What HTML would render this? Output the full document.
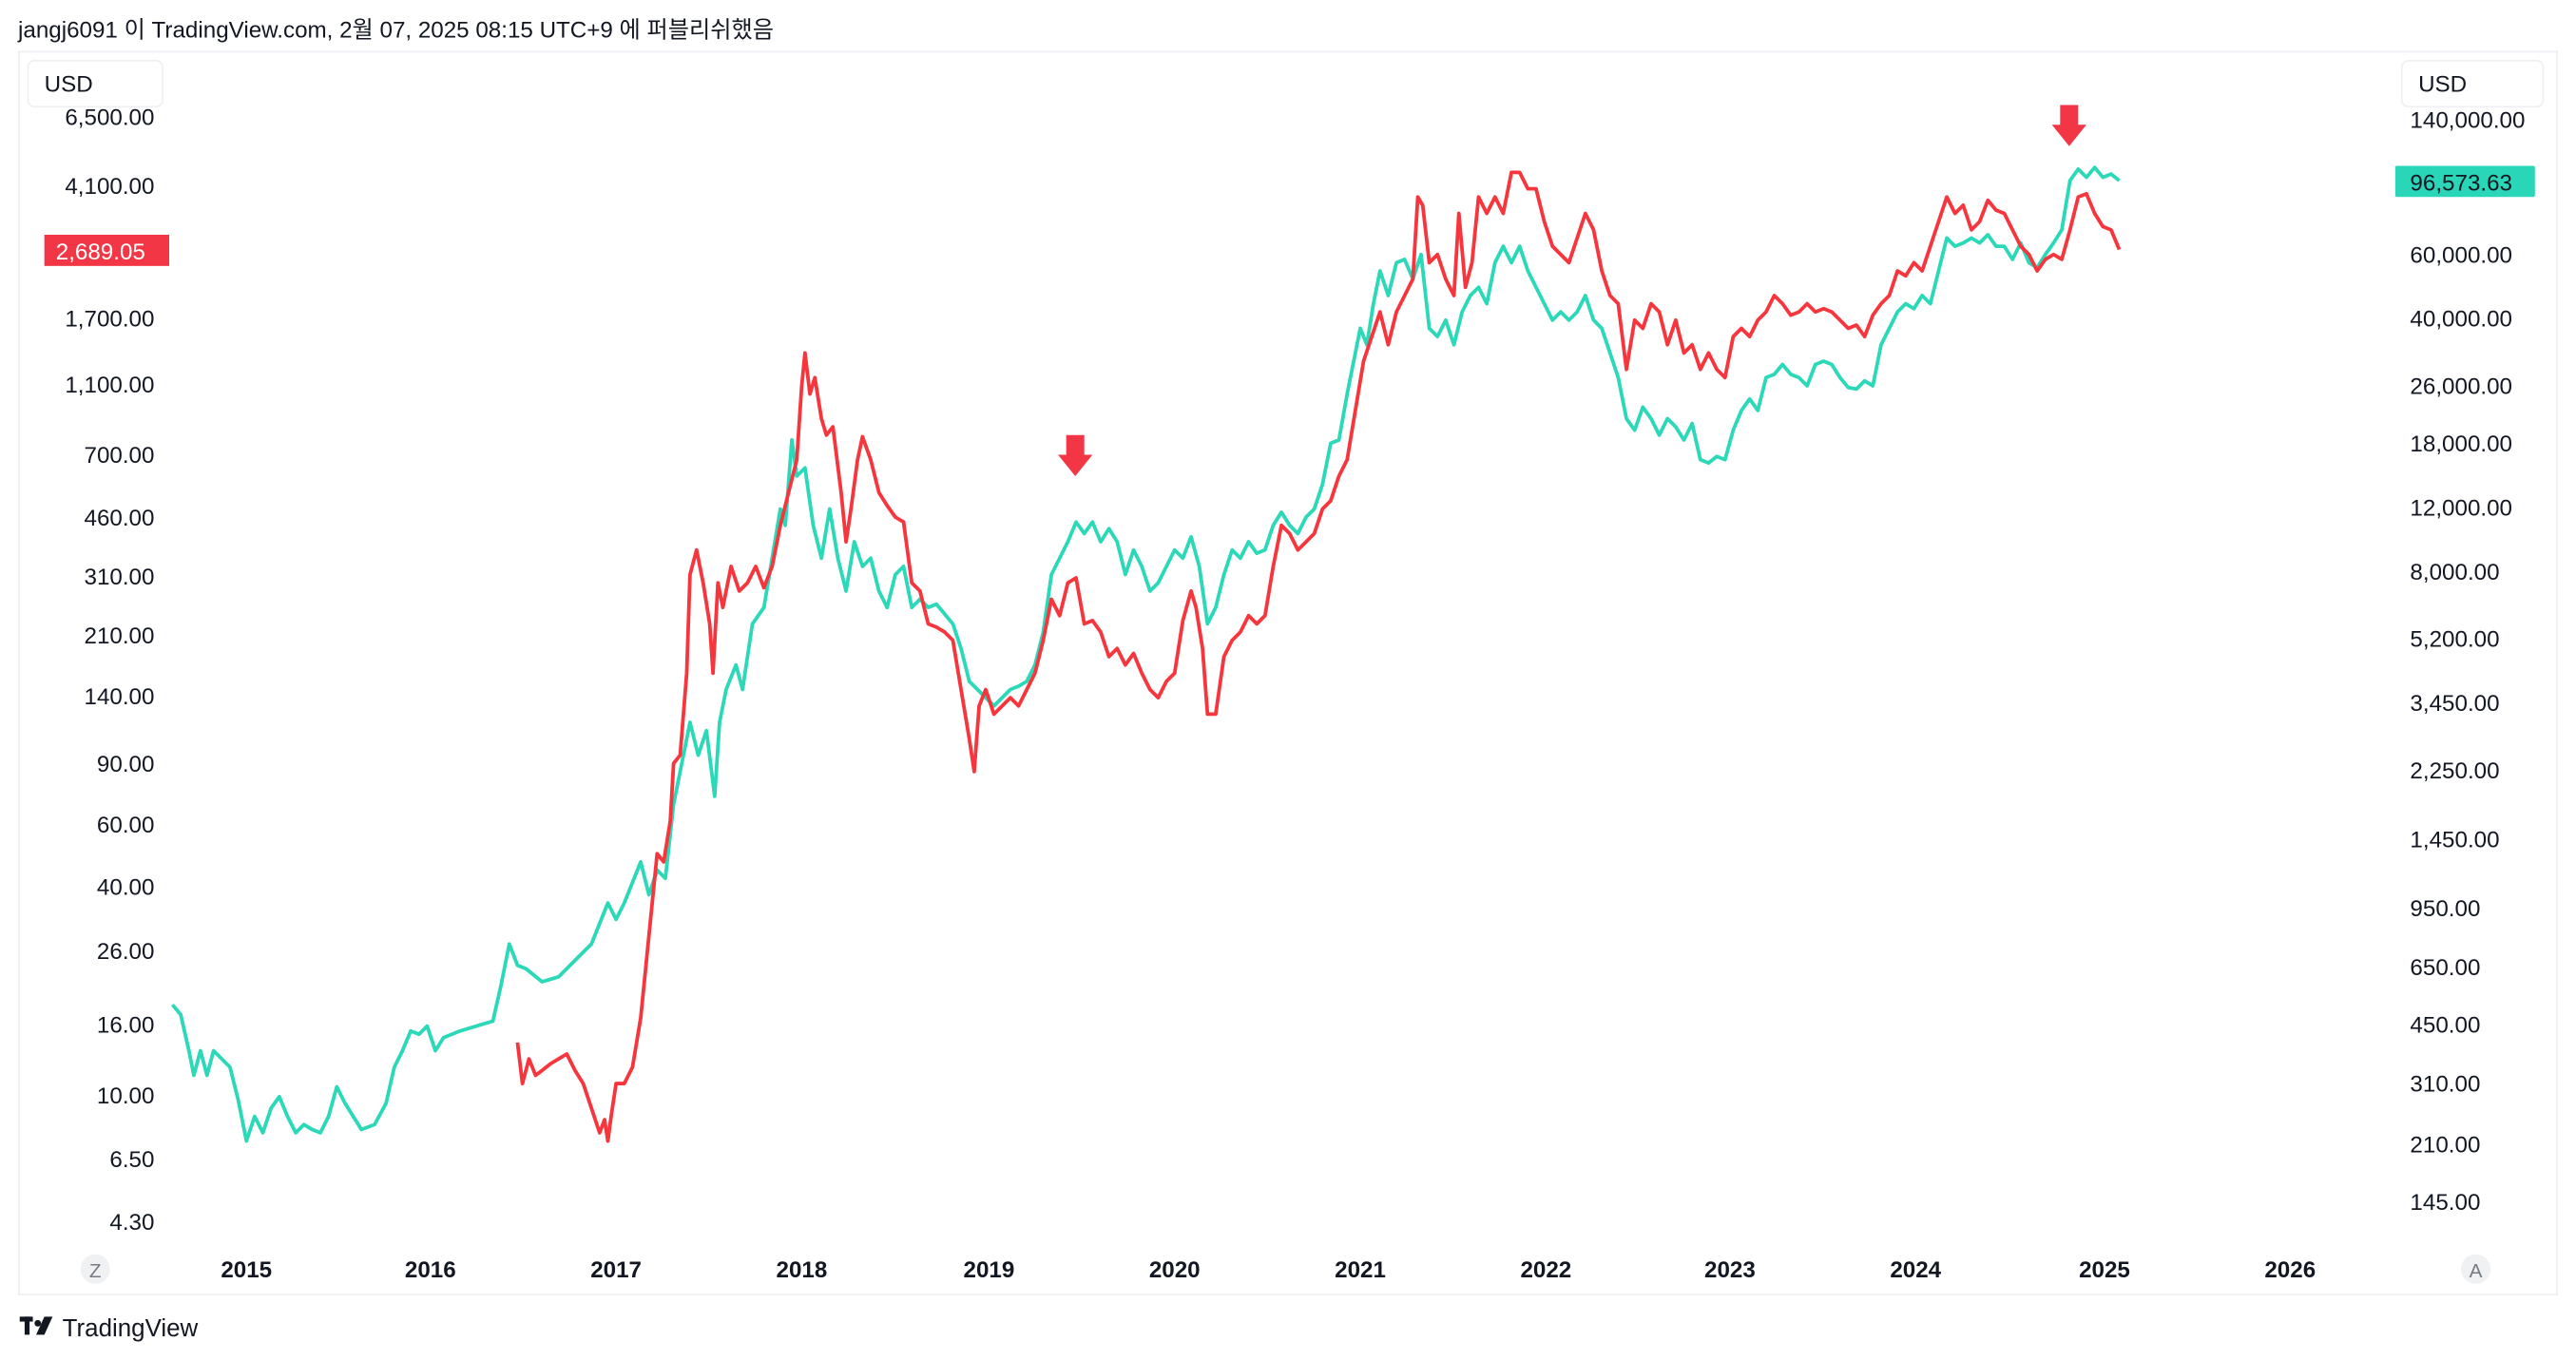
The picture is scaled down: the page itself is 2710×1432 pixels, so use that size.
<!DOCTYPE html>
<html><head><meta charset="utf-8"><style>
html,body{margin:0;padding:0;background:#fff;width:2710px;height:1432px;overflow:hidden}
svg{display:block}
text{font-family:"Liberation Sans","Noto Sans CJK KR",sans-serif}
</style></head><body>
<svg width="2710" height="1432" viewBox="0 0 1568 829" preserveAspectRatio="none" xmlns="http://www.w3.org/2000/svg">
<text x="11" y="23" font-size="14" fill="#131722">jangj6091 이 TradingView.com, 2월 07, 2025 08:15 UTC+9 에 퍼블리쉬했음</text>
<rect x="11.5" y="31.5" width="1545" height="757" fill="#fff" stroke="#eef0f3" stroke-width="1"/>
<g font-size="14" fill="#131722" text-anchor="end">
<text x="94" y="76">6,500.00</text>
<text x="94" y="118">4,100.00</text>
<text x="94" y="199">1,700.00</text>
<text x="94" y="239">1,100.00</text>
<text x="94" y="282">700.00</text>
<text x="94" y="320">460.00</text>
<text x="94" y="356">310.00</text>
<text x="94" y="392">210.00</text>
<text x="94" y="429">140.00</text>
<text x="94" y="470">90.00</text>
<text x="94" y="507">60.00</text>
<text x="94" y="545">40.00</text>
<text x="94" y="584">26.00</text>
<text x="94" y="629">16.00</text>
<text x="94" y="672">10.00</text>
<text x="94" y="711">6.50</text>
<text x="94" y="749">4.30</text>
</g>
<g font-size="14" fill="#131722" text-anchor="start">
<text x="1467" y="78">140,000.00</text>
<text x="1467" y="115">90,000.00</text>
<text x="1467" y="160">60,000.00</text>
<text x="1467" y="199">40,000.00</text>
<text x="1467" y="240">26,000.00</text>
<text x="1467" y="275">18,000.00</text>
<text x="1467" y="314">12,000.00</text>
<text x="1467" y="353">8,000.00</text>
<text x="1467" y="394">5,200.00</text>
<text x="1467" y="433">3,450.00</text>
<text x="1467" y="474">2,250.00</text>
<text x="1467" y="516">1,450.00</text>
<text x="1467" y="558">950.00</text>
<text x="1467" y="594">650.00</text>
<text x="1467" y="629">450.00</text>
<text x="1467" y="665">310.00</text>
<text x="1467" y="702">210.00</text>
<text x="1467" y="737">145.00</text>
</g>
<rect x="17" y="37" width="82" height="28" rx="4" fill="#fff" stroke="#eef0f3"/>
<text x="27" y="56" font-size="14" fill="#131722">USD</text>
<rect x="1462" y="37" width="86" height="28" rx="4" fill="#fff" stroke="#eef0f3"/>
<text x="1472" y="56" font-size="14" fill="#131722">USD</text>
<rect x="27" y="143" width="76" height="19" fill="#f23645"/>
<text x="34" y="158" font-size="14" fill="#fff">2,689.05</text>
<rect x="1458" y="101" width="85" height="19" rx="1" fill="#2ad6b8"/>
<text x="1467" y="116" font-size="14" fill="#131722">96,573.63</text>
<g font-size="14" font-weight="bold" fill="#131722" text-anchor="middle">
<text x="150" y="778">2015</text><text x="262" y="778">2016</text><text x="375" y="778">2017</text>
<text x="488" y="778">2018</text><text x="602" y="778">2019</text><text x="715" y="778">2020</text>
<text x="828" y="778">2021</text><text x="941" y="778">2022</text><text x="1053" y="778">2023</text>
<text x="1166" y="778">2024</text><text x="1281" y="778">2025</text><text x="1394" y="778">2026</text>
</g>
<circle cx="58" cy="773" r="9" fill="#f0f1f3"/><text x="58" y="778" font-size="12" fill="#787b86" text-anchor="middle">Z</text>
<circle cx="1507" cy="773" r="9" fill="#f0f1f3"/><text x="1507" y="778" font-size="12" fill="#787b86" text-anchor="middle">A</text>
<g fill="none" stroke-width="2.2" stroke-linejoin="round">
<polyline stroke="#2bd9b9" points="105,612 110,618 115,640 118,655 122,640 126,655 130,640 135,645 140,650 145,670 150,695 155,680 160,690 165,675 170,668 175,680 180,690 185,685 190,688 195,690 200,680 205,662 210,672 215,680 220,688 228,685 235,672 240,650 245,640 250,628 255,630 260,625 265,640 270,632 275,630 280,628 290,625 300,622 305,600 310,575 315,588 320,590 330,598 340,595 350,585 360,575 370,550 375,560 380,550 390,525 395,545 400,530 405,535 410,490 415,465 420,440 425,460 430,445 435,485 438,440 442,420 448,405 452,420 458,380 465,370 470,340 475,310 478,320 482,268 485,290 490,285 495,320 500,340 505,310 510,340 515,360 520,330 525,345 530,340 535,360 540,370 545,350 550,345 555,370 560,365 565,370 570,368 580,380 585,395 590,415 595,420 600,425 605,430 610,425 615,420 620,418 625,415 630,405 635,385 640,350 645,340 650,330 655,318 660,325 665,318 670,330 675,322 680,330 685,350 690,335 695,345 700,360 705,355 710,345 715,335 720,340 725,327 730,345 735,380 740,370 745,350 750,335 755,340 760,330 765,337 770,335 775,320 780,312 785,320 790,325 795,315 800,310 805,295 810,270 815,268 820,240 825,215 828,200 832,210 836,185 840,165 845,180 850,160 855,158 860,170 865,155 870,200 875,205 880,195 885,210 890,190 895,180 900,175 905,185 910,160 915,150 920,160 925,150 930,165 935,175 940,185 945,195 950,190 955,195 960,190 965,180 970,195 975,200 980,215 985,230 990,255 995,262 1000,248 1005,255 1010,265 1015,255 1020,260 1025,268 1030,258 1035,280 1040,282 1045,278 1050,280 1055,262 1060,250 1065,243 1070,250 1075,230 1080,228 1085,222 1090,228 1095,230 1100,235 1105,222 1110,220 1115,222 1120,230 1125,236 1130,237 1135,232 1140,235 1145,210 1150,200 1155,190 1160,185 1165,188 1170,180 1175,185 1180,165 1185,145 1190,150 1195,148 1200,145 1205,148 1210,143 1215,150 1220,150 1225,158 1230,148 1235,160 1240,163 1245,155 1250,148 1255,140 1260,110 1265,103 1270,108 1275,102 1280,108 1285,106 1290,110"/>
<polyline stroke="#f7353d" points="315,635 318,660 322,645 326,655 330,652 335,648 340,645 345,642 350,652 355,660 360,675 365,690 368,682 370,695 372,680 375,660 380,660 385,650 390,620 395,570 400,520 404,525 408,500 410,465 414,460 418,410 420,350 424,335 428,355 432,380 434,410 437,355 440,370 445,345 450,360 455,355 460,345 465,358 470,345 475,320 480,300 485,280 488,235 490,215 493,240 496,230 500,255 503,265 507,260 512,300 515,330 518,310 522,280 525,266 530,280 535,300 540,308 545,315 550,318 555,355 560,360 565,380 570,382 575,385 580,390 585,420 590,450 593,470 596,430 600,420 605,435 610,430 615,425 620,430 625,420 630,410 635,390 640,365 645,375 650,355 655,352 660,380 665,378 670,385 675,400 680,395 685,405 690,398 695,410 700,420 705,425 710,415 715,410 720,378 725,360 728,370 732,395 735,435 740,435 745,400 750,390 755,385 760,375 765,380 770,375 775,345 780,320 785,325 790,335 795,330 800,325 805,310 810,305 815,290 820,280 825,250 830,220 835,205 840,190 845,210 850,190 855,180 860,170 863,120 866,125 870,160 875,155 880,170 885,180 888,130 892,175 896,160 900,120 905,130 910,120 915,130 920,105 925,105 930,115 935,115 940,135 945,150 950,155 955,160 960,145 965,130 970,140 975,165 980,180 985,185 990,225 995,195 1000,200 1005,185 1010,190 1015,210 1020,195 1025,215 1030,210 1035,225 1040,215 1045,225 1050,230 1055,205 1060,200 1065,205 1070,195 1075,190 1080,180 1085,185 1090,192 1095,190 1100,185 1105,190 1110,188 1115,190 1120,195 1125,200 1130,198 1135,205 1140,192 1145,185 1150,180 1155,165 1160,168 1165,160 1170,165 1175,150 1180,135 1185,120 1190,130 1195,125 1200,140 1205,135 1210,122 1215,128 1220,130 1225,140 1230,150 1235,155 1240,165 1245,158 1250,155 1255,158 1260,140 1265,120 1270,118 1275,130 1280,138 1285,140 1290,152"/>
</g>
<polygon fill="#f23645" points="649,265 660,265 660,277 665,277 654.5,290 644,277 649,277"/>
<polygon fill="#f23645" points="1254,64 1265,64 1265,76 1270,76 1259.5,89 1249,76 1254,76"/>
<g fill="#131722"><rect x="12" y="802" width="8" height="3"/><rect x="15" y="802" width="3" height="11"/><circle cx="23" cy="806" r="2"/><polygon points="27,802 32,802 27,813 22,813"/></g>
<text x="38" y="814" font-size="15" fill="#131722">TradingView</text>
</svg>
</body></html>
